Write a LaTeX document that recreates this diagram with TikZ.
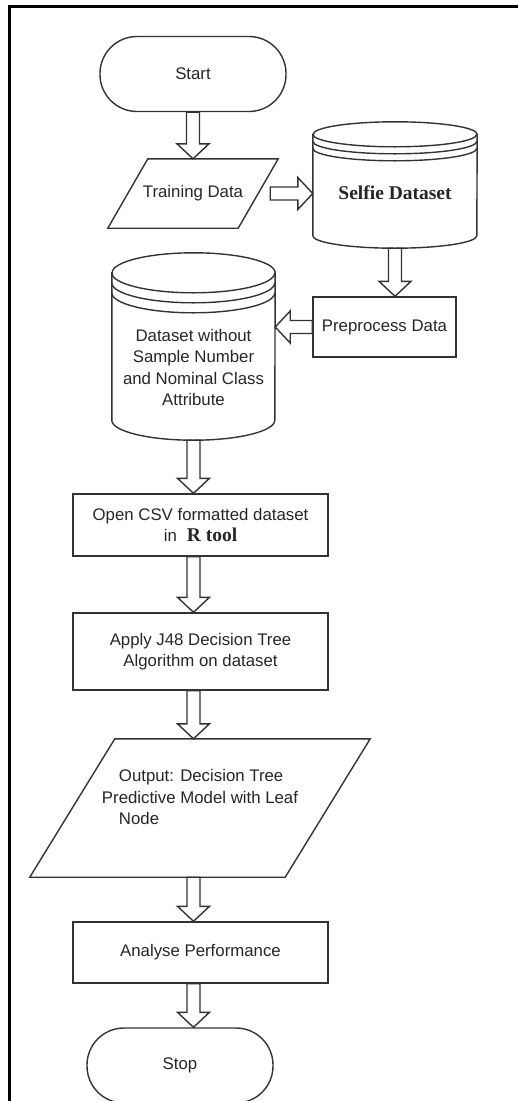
\documentclass[tikz,border=0pt]{standalone}
\usepackage{fontspec}
\setmainfont{Liberation Sans}
\newfontfamily\serifbf{Liberation Serif}
\usetikzlibrary{calc}

\tikzset{
  outline/.style={draw=black!80, line width=1.4pt, line join=miter},
  terminal/.style={outline, rectangle, rounded corners=37pt, minimum width=186pt, minimum height=75pt, text=black!85},
  proc/.style={outline, rectangle, minimum width=255pt, align=center, text=black!85},
  io/.style={rectangle, inner sep=0pt, text=black!85},
  dbody/.style={rectangle, align=center, text=black!85}
}

% hollow block arrow from #1 to #2
\newcommand{\fatarrow}[2]{%
  \coordinate (fa-a) at (#1);
  \coordinate (fa-b) at (#2);
  \coordinate (fa-c) at ($(fa-b)!15pt!(fa-a)$);
  \draw[outline] ($(fa-a)!6.5pt!90:(fa-b)$) -- ($(fa-c)!6.5pt!90:(fa-b)$)
    -- ($(fa-c)!16pt!90:(fa-b)$) -- (fa-b) -- ($(fa-c)!16pt!-90:(fa-b)$)
    -- ($(fa-c)!6.5pt!-90:(fa-b)$) -- ($(fa-a)!6.5pt!-90:(fa-b)$) -- cycle;
}
% parallelogram round node #1 with slant #2
\newcommand{\slantbox}[2]{%
  \draw[outline] (#1.south west) -- ([xshift=#2]#1.north west) -- (#1.north east)
    -- ([xshift=-#2]#1.south east) -- cycle;
}
% database drum round node #1: x radius, y radius, top above node, rim gap
\newcommand{\dbase}[5]{%
  \draw[outline] ([yshift=#4-#3]#1.north west) -- ([yshift=#3]#1.south west)
    arc[start angle=180, end angle=360, x radius=#2, y radius=#3]
    -- ([yshift=#4-#3]#1.north east)
    arc[start angle=0, end angle=180, x radius=#2, y radius=#3] -- cycle;
  \foreach \k in {0,1,2}
    \draw[outline] ([yshift=#4-#3-\k*#5]#1.north west)
      arc[start angle=180, end angle=360, x radius=#2, y radius=#3];
}

\begin{document}
\begin{tikzpicture}[x=1pt, y=1pt, font=\fontsize{16.8}{21.5}\selectfont]
  \useasboundingbox (0,0) rectangle (518,-1101);

  % Frame
  \draw[line width=3pt] (9,-1105) -- (9,-6) -- (522,-6);

  % Steps
  \node[terminal] (start) at (193,-74) {Start};
  \node[io, minimum width=170pt, minimum height=69pt] (train) at (193,-193.5) {Training Data};
  \node[dbody, minimum width=164pt, minimum height=110pt] (selfie) at (395,-193)
    {\serifbf\bfseries\fontsize{19.5}{22}\selectfont Selfie Dataset};
  \node[proc, minimum width=143pt, minimum height=60pt] (prep) at (384.5,-327) {Preprocess Data};
  \node[dbody, minimum width=163pt, minimum height=145pt] (data) at (193.5,-367.5)
    {Dataset without\\Sample Number\\and Nominal Class\\Attribute};
  \node[proc, minimum height=62pt] (csv) at (200.5,-525)
    {Open CSV formatted dataset\\in\hspace{10pt}{\serifbf\bfseries\fontsize{19.5}{21}\selectfont R tool}};
  \node[proc, minimum height=77pt] (apply) at (200.5,-651.5) {Apply J48 Decision Tree\\Algorithm on dataset};
  \node[io, minimum width=340pt, minimum height=138pt, align=left] (out) at (200,-808)
    {\hspace*{17pt}Output: Decision Tree\\Predictive Model with Leaf\\\hspace*{17pt}Node\\~};
  \node[proc, minimum height=61pt] (ana) at (200.5,-952.5) {Analyse Performance};
  \node[terminal] (stop) at (180,-1065.5) {Stop};

  % Parallelograms and drums
  \slantbox{train}{40}
  \slantbox{out}{85}
  \dbase{selfie}{82}{12.5}{16}{7}
  \dbase{data}{81.5}{20}{42}{10}

  % Block arrows
  \fatarrow{start.south}{start.south |- train.north}
  \fatarrow{[xshift=-8pt]train.east}{train.east -| selfie.west}
  \fatarrow{selfie.south}{selfie.south |- prep.north}
  \fatarrow{prep.west}{prep.west -| data.east}
  \fatarrow{data.south}{data.south |- csv.north}
  \fatarrow{csv.south -| data.south}{apply.north -| data.south}
  \fatarrow{apply.south -| data.south}{out.north -| data.south}
  \fatarrow{out.south -| data.south}{ana.north -| data.south}
  \fatarrow{ana.south -| data.south}{stop.north -| data.south}
\end{tikzpicture}
\end{document}
